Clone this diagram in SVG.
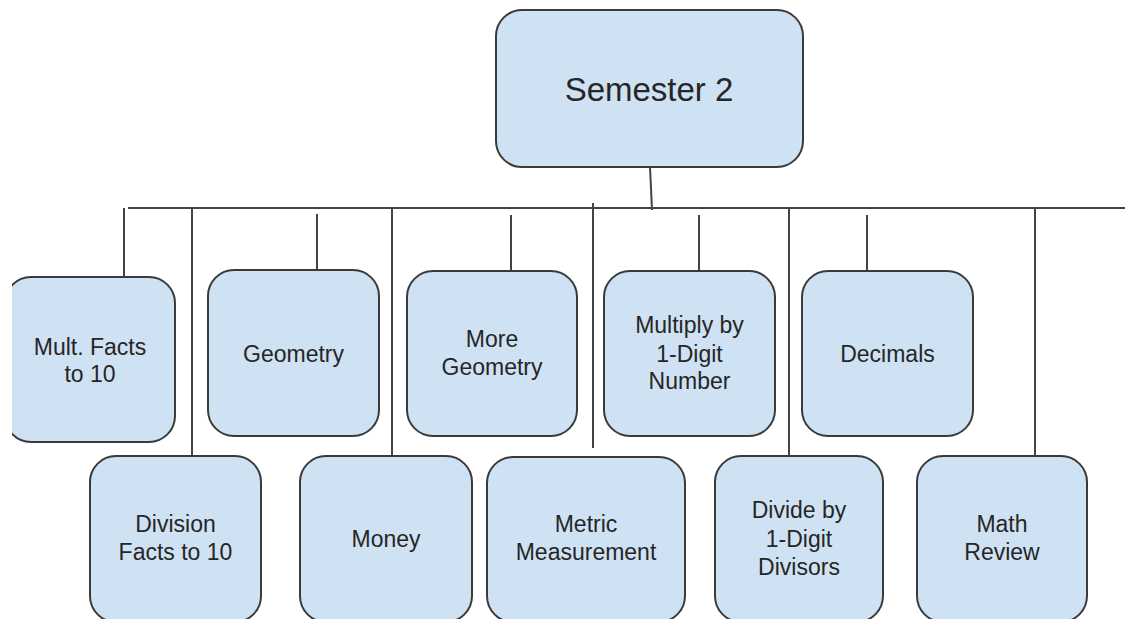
<svg xmlns="http://www.w3.org/2000/svg" width="1125" height="619" viewBox="0 0 1125 619">
<defs>
<style>
.box{fill:#cfe2f3;stroke:#3a3a3a;stroke-width:2}
.t{font-family:"Liberation Sans",Arial,sans-serif;font-size:23px;fill:#262626;text-anchor:middle}
.big{font-size:33px}
.c{stroke:#444;stroke-width:2;fill:none}
</style>
<clipPath id="leftclip"><rect x="12" y="0" width="1113" height="619"/></clipPath>
</defs>
<rect width="1125" height="619" fill="#fff"/>
<g id="connectors">
<path class="c" d="M650 167 L652 210"/>
<path class="c" d="M128 208 H1125"/>
<path class="c" d="M124 208 V277"/>
<path class="c" d="M317 214 V270"/>
<path class="c" d="M511 215 V271"/>
<path class="c" d="M699 215 V271"/>
<path class="c" d="M867 215 V271"/>
<path class="c" d="M192 208 V456"/>
<path class="c" d="M392 208 V456"/>
<path class="c" d="M593 203 V448"/>
<path class="c" d="M789 208 V456"/>
<path class="c" d="M1035 208 V456"/>
</g>
<g id="semester2">
<rect class="box" x="496" y="10" width="307" height="157" rx="26"/>
<text class="t big" x="649" y="101">Semester 2</text>
</g>
<g id="mult-facts" clip-path="url(#leftclip)">
<rect class="box" x="5" y="277" width="170" height="165" rx="26"/>
<text class="t" x="90" y="355">Mult. Facts</text>
<text class="t" x="90" y="382">to 10</text>
</g>
<g id="geometry">
<rect class="box" x="208" y="270" width="171" height="166" rx="26"/>
<text class="t" x="293.5" y="362">Geometry</text>
</g>
<g id="more-geometry">
<rect class="box" x="407" y="271" width="170" height="165" rx="26"/>
<text class="t" x="492" y="347">More</text>
<text class="t" x="492" y="375">Geometry</text>
</g>
<g id="multiply">
<rect class="box" x="604" y="271" width="171" height="165" rx="26"/>
<text class="t" x="689.5" y="333">Multiply by</text>
<text class="t" x="689.5" y="362">1-Digit</text>
<text class="t" x="689.5" y="389">Number</text>
</g>
<g id="decimals">
<rect class="box" x="802" y="271" width="171" height="165" rx="26"/>
<text class="t" x="887.5" y="362">Decimals</text>
</g>
<g id="division-facts">
<rect class="box" x="90" y="456" width="171" height="166" rx="26"/>
<text class="t" x="175.5" y="532">Division</text>
<text class="t" x="175.5" y="560">Facts to 10</text>
</g>
<g id="money">
<rect class="box" x="300" y="456" width="172" height="166" rx="26"/>
<text class="t" x="386" y="547">Money</text>
</g>
<g id="metric">
<rect class="box" x="487" y="457" width="198" height="165" rx="26"/>
<text class="t" x="586" y="532">Metric</text>
<text class="t" x="586" y="560">Measurement</text>
</g>
<g id="divide">
<rect class="box" x="715" y="456" width="168" height="166" rx="26"/>
<text class="t" x="799" y="518">Divide by</text>
<text class="t" x="799" y="547">1-Digit</text>
<text class="t" x="799" y="575">Divisors</text>
</g>
<g id="math-review">
<rect class="box" x="917" y="456" width="170" height="166" rx="26"/>
<text class="t" x="1002" y="532">Math</text>
<text class="t" x="1002" y="560">Review</text>
</g>
</svg>
